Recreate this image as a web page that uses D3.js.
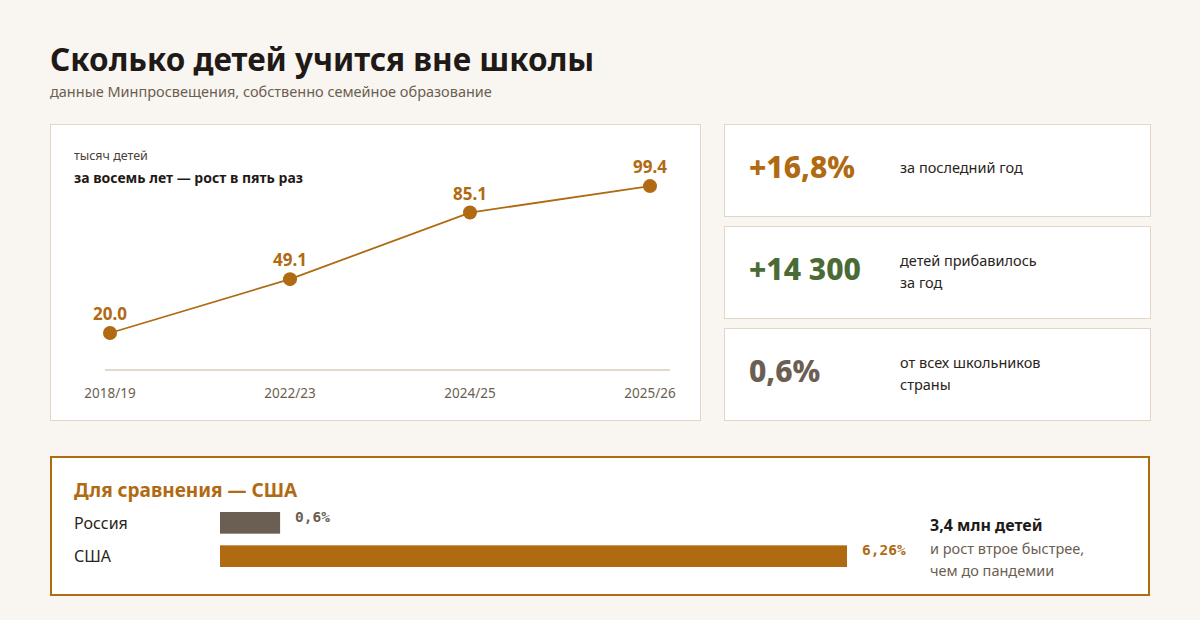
<!DOCTYPE html>
<html><head><meta charset="utf-8">
<script src="https://cdn.jsdelivr.net/npm/d3@7"></script>
<style>body{margin:0;background:#f9f6f1;}svg{display:block;font-family:"Noto Sans","Open Sans",sans-serif;}</style>
</head><body><svg id="c" width="1200" height="620"></svg>
<script>
const years = ["2018/19","2022/23","2024/25","2025/26"];
const values = [20.0,49.1,85.1,99.4];
const cards = [
 {big:"+16,8%", color:"#b06a12", text:["за последний год"]},
 {big:"+14 300", color:"#4a6b35", text:["детей прибавилось","за год"]},
 {big:"0,6%", color:"#6b5e52", text:["от всех школьников","страны"]}
];
const compCountries = ["Россия","США"];
const compValues = [0.6,6.26];
const compLabels = ["0,6%","6,26%"];
const compColors = ["#6b5e52","#b06a12"];

const svg = d3.select("#c");
const brown="#b06a12";
svg.append("text").attr("x",50).attr("y",71).attr("font-size",31.5).attr("font-weight",700).attr("fill","#1f1a17").text("Сколько детей учится вне школы");
svg.append("text").attr("x",50).attr("y",97).attr("font-size",14.5).attr("fill","#6b5e52").text("данные Минпросвещения, собственно семейное образование");

svg.append("rect").attr("x",50.5).attr("y",124.5).attr("width",650).attr("height",296).attr("fill","#fff").attr("stroke","#e2d6c6");
svg.append("text").attr("x",74).attr("y",160).attr("font-size",12.5).attr("fill","#4a423c").text("тысяч детей");
svg.append("text").attr("x",74).attr("y",183).attr("font-size",14).attr("font-weight",700).attr("fill","#1f1a17").text("за восемь лет — рост в пять раз");

const x = d3.scalePoint().domain(years).range([110,650]);
const y = d3.scaleLinear().domain([0,100]).range([370,185]);
svg.append("line").attr("x1",105).attr("x2",670).attr("y1",370).attr("y2",370).attr("stroke","#d8ccbc").attr("stroke-width",1.5);
years.forEach(yr=>svg.append("text").attr("x",x(yr)).attr("y",398).attr("text-anchor","middle").attr("font-size",13.5).attr("fill","#6b5e52").text(yr));
svg.append("path").datum(values).attr("d",d3.line().x((d,i)=>x(years[i])).y(d=>y(d))).attr("fill","none").attr("stroke",brown).attr("stroke-width",1.8);
values.forEach((v,i)=>{
 svg.append("circle").attr("cx",x(years[i])).attr("cy",y(v)).attr("r",7).attr("fill",brown);
 svg.append("text").attr("x",x(years[i])).attr("y",y(v)-13).attr("text-anchor","middle").attr("font-size",17).attr("font-weight",700).attr("fill",brown).text(v.toFixed(1));
});

cards.forEach((c,i)=>{
 const top=124+i*102;
 svg.append("rect").attr("x",724.5).attr("y",top+0.5).attr("width",426).attr("height",92).attr("fill","#fff").attr("stroke","#e2d6c6");
 svg.append("text").attr("x",749).attr("y",top+54).attr("font-size",30).attr("font-weight",800).attr("fill",c.color).text(c.big);
 const off = c.text.length===1?49:40;
 c.text.forEach((t,j)=>svg.append("text").attr("x",900).attr("y",top+off+j*22).attr("font-size",14.5).attr("fill","#2a2420").text(t));
});

svg.append("rect").attr("x",51).attr("y",457).attr("width",1098).attr("height",138).attr("fill","#fff").attr("stroke",brown).attr("stroke-width",2);
svg.append("text").attr("x",74).attr("y",497).attr("font-size",19).attr("font-weight",700).attr("fill",brown).text("Для сравнения — США");
const bx = d3.scaleLinear().domain([0,6.26]).range([220,847]);
const by = d3.scaleBand().domain(compCountries).range([512,567]).paddingInner(0.35);
compCountries.forEach((c,i)=>{
 svg.append("text").attr("x",74).attr("y",by(c)+by.bandwidth()/2+6).attr("font-size",16).attr("fill","#2a2420").text(c);
 svg.append("rect").attr("x",bx(0)).attr("y",by(c)).attr("width",bx(compValues[i])-bx(0)).attr("height",by.bandwidth()).attr("fill",compColors[i]);
 svg.append("text").attr("x",bx(compValues[i])+15).attr("y",by(c)+by.bandwidth()/2-1).attr("font-size",14.5).attr("font-weight",700).attr("font-family","'DejaVu Sans Mono',monospace").attr("fill",compColors[i]).text(compLabels[i]);
});
svg.append("text").attr("x",930).attr("y",531).attr("font-size",16).attr("font-weight",700).attr("fill","#1f1a17").text("3,4 млн детей");
svg.append("text").attr("x",930).attr("y",554).attr("font-size",14.5).attr("fill","#6b5e52").text("и рост втрое быстрее,");
svg.append("text").attr("x",930).attr("y",576).attr("font-size",14.5).attr("fill","#6b5e52").text("чем до пандемии");
</script></body></html>
